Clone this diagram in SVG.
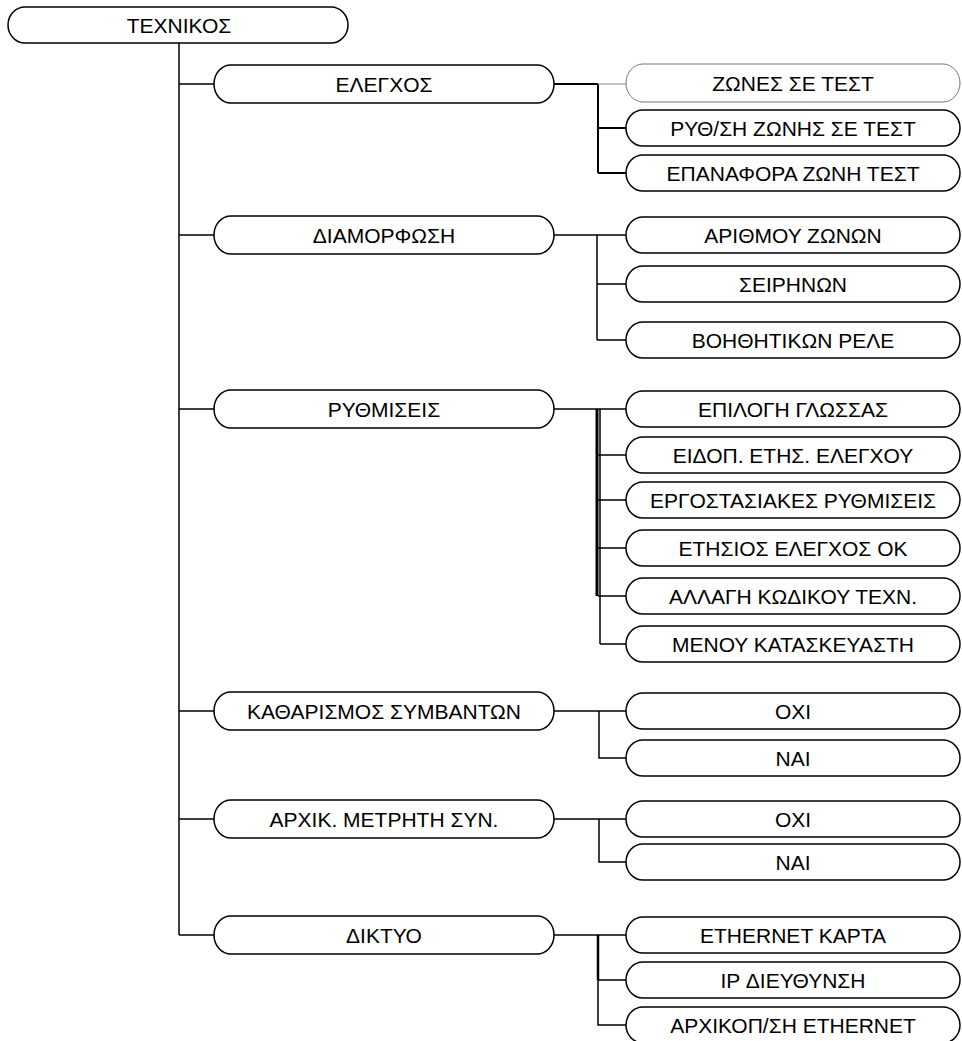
<svg xmlns="http://www.w3.org/2000/svg" width="962" height="1041" viewBox="0 0 962 1041">
<style>
.n path{fill:#fff;stroke:#000;stroke-width:1.5}
.n text{font-family:"Liberation Sans",Arial,sans-serif;font-size:21px;fill:#000;text-anchor:middle;dominant-baseline:central}
.c path{fill:none;stroke:#000;stroke-width:1.5}
</style>
<rect width="962" height="1041" fill="#fff"/>
<g class="c" id="connectors">
<path d="M179 43V935"/>
<path d="M179 84H214M179 235H214M179 409H214M179 711H214M179 819H214M179 935H214"/>
<path d="M554 84H598M598 84V173M598 128H626M598 173H626" style="stroke-width:2"/>
<path d="M598 84H626" style="stroke:#888;stroke-width:1"/>
<path d="M554 235H626M597 235V340M597 284H626M597 340H626"/>
<path d="M554 409H626M600 409V644M598 455H626M598 500H626M598 548H626M598 596H626M600 644H626"/>
<path d="M597 409V596" style="stroke-width:3"/>
<path d="M554 711H626M599 711V758H626"/>
<path d="M554 819H626M599 819V862H626"/>
<path d="M554 935H626M598 935V1025H626M598 980H626"/>
<path d="M598 935V980" style="stroke-width:2.5"/>
</g>
<g class="n" id="n-root"><path d="M25 7H331A17 18 0 0 1 331 43H25A17 18 0 0 1 25 7Z"/><text x="179" y="25">ΤΕΧΝΙΚΟΣ</text></g>
<g class="n" id="n-elegxos"><path d="M231 65H537A17 19 0 0 1 537 103H231A17 19 0 0 1 231 65Z"/><text x="384" y="84">ΕΛΕΓΧΟΣ</text></g>
<g class="n" id="n-zones-test"><path d="M643 64H943A17 19 0 0 1 943 102H643A17 19 0 0 1 643 64Z" style="stroke:#777;stroke-width:1"/><text x="793" y="83">ΖΩΝΕΣ ΣΕ ΤΕΣΤ</text></g>
<g class="n" id="n-rythsi"><path d="M643 110H943A17 18 0 0 1 943 146H643A17 18 0 0 1 643 110Z"/><text x="793" y="128">ΡΥΘ/ΣΗ ΖΩΝΗΣ ΣΕ ΤΕΣΤ</text></g>
<g class="n" id="n-epanafora"><path d="M643 155H943A17 18 0 0 1 943 191H643A17 18 0 0 1 643 155Z"/><text x="793" y="173">ΕΠΑΝΑΦΟΡΑ ΖΩΝΗ ΤΕΣΤ</text></g>
<g class="n" id="n-diamorfosi"><path d="M231 216H537A17 19 0 0 1 537 254H231A17 19 0 0 1 231 216Z"/><text x="384" y="235">ΔΙΑΜΟΡΦΩΣΗ</text></g>
<g class="n" id="n-arithmou"><path d="M643 217H943A17 18 0 0 1 943 253H643A17 18 0 0 1 643 217Z"/><text x="793" y="235">ΑΡΙΘΜΟΥ ΖΩΝΩΝ</text></g>
<g class="n" id="n-seirinon"><path d="M643 266H943A17 18 0 0 1 943 302H643A17 18 0 0 1 643 266Z"/><text x="793" y="284">ΣΕΙΡΗΝΩΝ</text></g>
<g class="n" id="n-voith"><path d="M643 322H943A17 18 0 0 1 943 358H643A17 18 0 0 1 643 322Z"/><text x="793" y="340">ΒΟΗΘΗΤΙΚΩΝ ΡΕΛΕ</text></g>
<g class="n" id="n-rythmiseis"><path d="M231 390H537A17 19 0 0 1 537 428H231A17 19 0 0 1 231 390Z"/><text x="384" y="409">ΡΥΘΜΙΣΕΙΣ</text></g>
<g class="n" id="n-glossa"><path d="M643 391H943A17 18 0 0 1 943 427H643A17 18 0 0 1 643 391Z"/><text x="793" y="409">ΕΠΙΛΟΓΗ ΓΛΩΣΣΑΣ</text></g>
<g class="n" id="n-eidop"><path d="M643 437H943A17 18 0 0 1 943 473H643A17 18 0 0 1 643 437Z"/><text x="793" y="455">ΕΙΔΟΠ. ΕΤΗΣ. ΕΛΕΓΧΟΥ</text></g>
<g class="n" id="n-ergost"><path d="M643 482H943A17 18 0 0 1 943 518H643A17 18 0 0 1 643 482Z"/><text x="793" y="500">ΕΡΓΟΣΤΑΣΙΑΚΕΣ ΡΥΘΜΙΣΕΙΣ</text></g>
<g class="n" id="n-etisios"><path d="M643 530H943A17 18 0 0 1 943 566H643A17 18 0 0 1 643 530Z"/><text x="793" y="548">ΕΤΗΣΙΟΣ ΕΛΕΓΧΟΣ ΟΚ</text></g>
<g class="n" id="n-allagi"><path d="M643 578H943A17 18 0 0 1 943 614H643A17 18 0 0 1 643 578Z"/><text x="793" y="596">ΑΛΛΑΓΗ ΚΩΔΙΚΟΥ ΤΕΧΝ.</text></g>
<g class="n" id="n-menou"><path d="M643 626H943A17 18 0 0 1 943 662H643A17 18 0 0 1 643 626Z"/><text x="793" y="644">ΜΕΝΟΥ ΚΑΤΑΣΚΕΥΑΣΤΗ</text></g>
<g class="n" id="n-katharismos"><path d="M231 692H537A17 19 0 0 1 537 730H231A17 19 0 0 1 231 692Z"/><text x="384" y="711">ΚΑΘΑΡΙΣΜΟΣ ΣΥΜΒΑΝΤΩΝ</text></g>
<g class="n" id="n-kath-oxi"><path d="M643 693H943A17 18 0 0 1 943 729H643A17 18 0 0 1 643 693Z"/><text x="793" y="711">ΟΧΙ</text></g>
<g class="n" id="n-kath-nai"><path d="M643 740H943A17 18 0 0 1 943 776H643A17 18 0 0 1 643 740Z"/><text x="793" y="758">ΝΑΙ</text></g>
<g class="n" id="n-arxik"><path d="M231 800H537A17 19 0 0 1 537 838H231A17 19 0 0 1 231 800Z"/><text x="384" y="819">ΑΡΧΙΚ. ΜΕΤΡΗΤΗ ΣΥΝ.</text></g>
<g class="n" id="n-arx-oxi"><path d="M643 801H943A17 18 0 0 1 943 837H643A17 18 0 0 1 643 801Z"/><text x="793" y="819">ΟΧΙ</text></g>
<g class="n" id="n-arx-nai"><path d="M643 844H943A17 18 0 0 1 943 880H643A17 18 0 0 1 643 844Z"/><text x="793" y="862">ΝΑΙ</text></g>
<g class="n" id="n-diktyo"><path d="M231 916H537A17 19 0 0 1 537 954H231A17 19 0 0 1 231 916Z"/><text x="384" y="935">ΔΙΚΤΥΟ</text></g>
<g class="n" id="n-ethernet"><path d="M643 917H943A17 18 0 0 1 943 953H643A17 18 0 0 1 643 917Z"/><text x="793" y="935">ETHERNET ΚΑΡΤΑ</text></g>
<g class="n" id="n-ip"><path d="M643 962H943A17 18 0 0 1 943 998H643A17 18 0 0 1 643 962Z"/><text x="793" y="980">IP ΔΙΕΥΘΥΝΣΗ</text></g>
<g class="n" id="n-arxikop"><path d="M643 1007H943A17 18 0 0 1 943 1043H643A17 18 0 0 1 643 1007Z"/><text x="793" y="1025">ΑΡΧΙΚΟΠ/ΣΗ ETHERNET</text></g>
</svg>
